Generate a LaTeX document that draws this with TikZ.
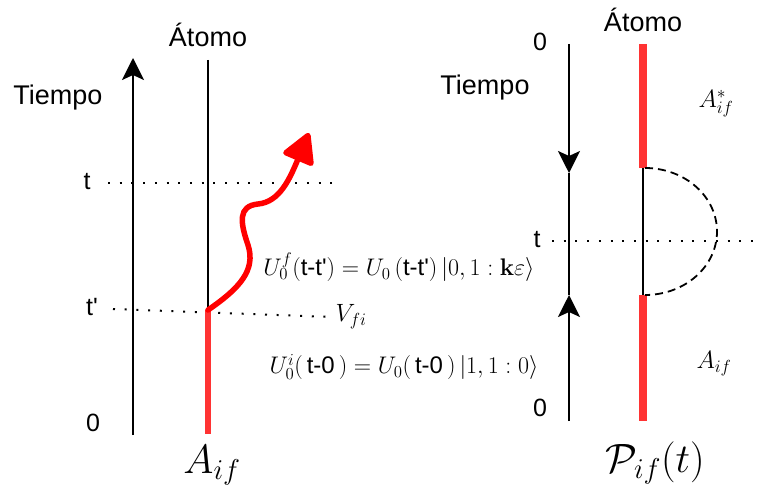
\RequirePackage{fix-cm}
\documentclass[tikz,border=0pt]{standalone}
\usepackage[no-math]{fontspec}
\newfontfamily\arial{Liberation Sans}
\usetikzlibrary{arrows.meta}
\definecolor{lred}{RGB}{255,51,51}
\definecolor{wred}{RGB}{255,0,0}
\begin{document}
\begin{tikzpicture}[x=1pt,y=-1pt,
  lbl/.style={font=\arial\fontsize{27}{30}\selectfont, inner sep=0pt},
  num/.style={font=\arial\fontsize{25}{28}\selectfont, inner sep=0pt},
  eq/.style={font=\fontsize{24}{28}\selectfont, inner sep=0pt},
  bigm/.style={font=\fontsize{41}{46}\selectfont, inner sep=0pt},
  smallm/.style={font=\fontsize{25}{30}\selectfont, inner sep=0pt},
  axis/.style={line width=2pt, black},
  atom/.style={line width=1.6pt, black},
  dots/.style={line width=2pt, dash pattern=on 2pt off 9.7pt},
  arrtip/.style={-{Stealth[length=22pt,width=22pt,inset=5pt]}},
]
\useasboundingbox (0,0) rectangle (759,497);

% ---------- left diagram ----------
\coordinate (LaxB) at (133,435);
\coordinate (LaxT) at (133,58);
\coordinate (LatT) at (208,60);
\coordinate (Lv)   at (208,310);
\coordinate (LatB) at (208,434);
\coordinate (Ltip) at (309,133);

\node[lbl] (atomL) at (208,35) {Átomo};
\node[lbl] (tiempoL) at (58,98) {Tiempo};
\node[num] (tL) at (87,182) {t};
\node[num] (tpL) at (92,307) {t'};
\node[num] (zL) at (93,423) {0};
\node[smallm] (vfi) at (351,317) {$V_{fi}$};
\node[bigm] (AifL) at (212,465) {$A_{if}$};

\node[eq] (eq1) at (399,267) {$U_0^f(\mbox{\arial t-t'}) = U_0\,(\mbox{\arial t-t'})\,|0,1:\mathbf{k}\varepsilon\rangle$};
\node[eq] (eq2) at (404,367) {$U_0^i(\,\mbox{\arial t-0}\,) = U_0(\,\mbox{\arial t-0}\,)\,|1,1:0\rangle$};

\draw[dots] (108,183) coordinate (d1a) -- (332,183) coordinate (d1b);
\draw[dots] (113,309) coordinate (d2a) -- ([xshift=-3pt]vfi.west);

\draw[axis, arrtip] (LaxB) -- (LaxT);
\draw[atom] (LatT) -- (Lv);
\draw[line width=6pt, lred] (Lv) -- (LatB);
\draw[line width=5.5pt, wred, line cap=round,
      -{Triangle[length=33pt,width=35pt,round]}]
  (Lv) .. controls (240,288) and (256,270) .. (248,245)
       .. controls (240,222) and (238,206) .. (258,204)
       .. controls (280,202) and (290,178) .. (Ltip);

% ---------- right diagram ----------
\coordinate (RaxT) at (569,44);
\coordinate (Rdn)  at (569,173);
\coordinate (Rup)  at (569,295);
\coordinate (RaxB) at (569,421);
\coordinate (RatT) at (643,44);
\coordinate (Ra1)  at (643,168);
\coordinate (Ra2)  at (643,295);
\coordinate (RatB) at (643,421);

\node[lbl] (atomR) at (643,20) {Átomo};
\node[lbl] (tiempoR) at (485,88) {Tiempo};
\node[num] (z1R) at (540,42) {0};
\node[num] (tR) at (537,240) {t};
\node[num] (z2R) at (540,408) {0};
\node[smallm] (AstR) at (716,104) {$A^*_{if}$};
\node[smallm] (AifR) at (714,364) {$A_{if}$};
\node[bigm] (Pif) at (655,463) {$\mathcal{P}_{if}(t)$};

\draw[dots] (552,241) coordinate (d3a) -- (759,241) coordinate (d3b);

\draw[axis, arrtip] (RaxT) -- (Rdn);
\draw[axis] (Rdn) -- (Rup);
\draw[axis, arrtip] (RaxB) -- (Rup);

\draw[line width=8pt, lred] (RatT) -- (Ra1);
\draw[atom] (Ra1) -- (Ra2);
\draw[line width=8pt, lred] (Ra2) -- (RatB);
\draw[line width=1.8pt, dash pattern=on 8pt off 5pt]
  (645,168) arc[start angle=-90, end angle=90, x radius=72, y radius=63.5];
\end{tikzpicture}
\end{document}
